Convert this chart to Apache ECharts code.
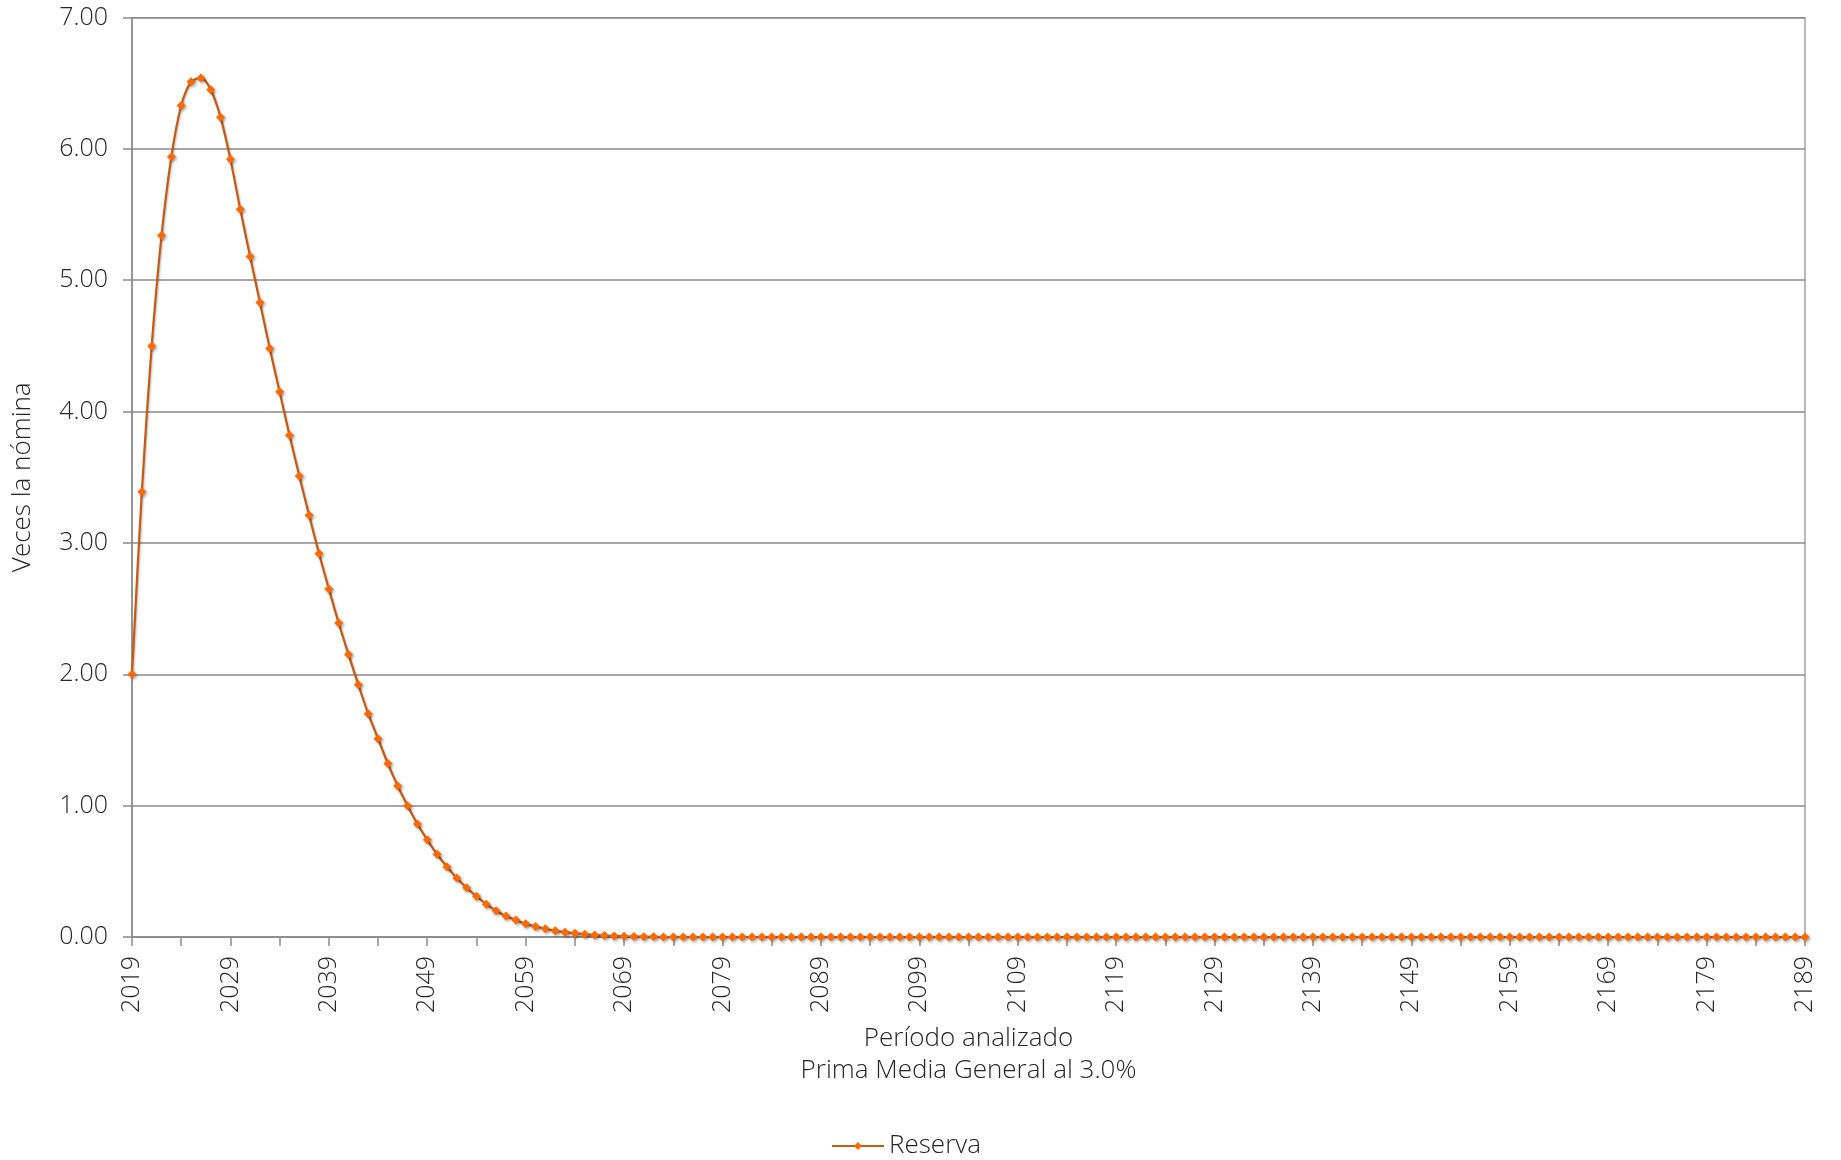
<!DOCTYPE html>
<html>
<head>
<meta charset="utf-8">
<script src="https://cdn.jsdelivr.net/npm/echarts@6/dist/echarts.min.js"></script>
<style>
html,body{margin:0;padding:0;background:#fff;}
#chart{width:1841px;height:1160px;}
</style>
</head>
<body>
<div id="chart"></div>
<script>
const firstYear = 2019;
const lastYear = 2189;
const years = [];
for (let y = firstYear; y <= lastYear; y++) years.push(String(y));

const reserva = [
  2.00, 3.39, 4.50, 5.34, 5.94, 6.33, 6.51, 6.54, 6.45, 6.24,
  5.92, 5.54, 5.18, 4.83, 4.48, 4.15, 3.82, 3.51, 3.21, 2.92,
  2.65, 2.39, 2.15, 1.92, 1.70, 1.51, 1.32, 1.15, 1.00, 0.86,
  0.74, 0.63, 0.535, 0.45, 0.375, 0.31, 0.25, 0.20, 0.16, 0.13,
  0.10, 0.08, 0.063, 0.048, 0.037, 0.028, 0.020, 0.015, 0.011, 0.008,
  0.005, 0.003, 0.002, 0.001, 0, 0, 0, 0, 0, 0,
  0, 0, 0, 0, 0, 0, 0, 0, 0, 0,
  0, 0, 0, 0, 0, 0, 0, 0, 0, 0,
  0, 0, 0, 0, 0, 0, 0, 0, 0, 0,
  0, 0, 0, 0, 0, 0, 0, 0, 0, 0,
  0, 0, 0, 0, 0, 0, 0, 0, 0, 0,
  0, 0, 0, 0, 0, 0, 0, 0, 0, 0,
  0, 0, 0, 0, 0, 0, 0, 0, 0, 0,
  0, 0, 0, 0, 0, 0, 0, 0, 0, 0,
  0, 0, 0, 0, 0, 0, 0, 0, 0, 0,
  0, 0, 0, 0, 0, 0, 0, 0, 0, 0,
  0, 0, 0, 0, 0, 0, 0, 0, 0, 0,
  0
];

const seriesName = 'Reserva';
const xAxisName = 'Período analizado\nPrima Media General al 3.0%';
const yAxisName = 'Veces la nómina';

const FONT = '"Open Sans", Lato, sans-serif';
const TXT = '#262626';

const chart = echarts.init(document.getElementById('chart'), null, {renderer: 'canvas'});
chart.setOption({
  animation: false,
  backgroundColor: '#ffffff',
  textStyle: {fontFamily: FONT},
  grid: {
    left: 132, right: 36, top: 17.5, bottom: 223,
    show: true, borderColor: '#8a8a8a', borderWidth: 1.2, containLabel: false
  },
  legend: {
    data: [seriesName],
    left: 826, top: 1128,
    itemWidth: 52, itemHeight: 10, itemGap: 6,
    textStyle: {fontFamily: FONT, fontSize: 26, color: TXT, fontWeight: 300}
  },
  xAxis: {
    type: 'category',
    data: years,
    boundaryGap: false,
    name: xAxisName,
    nameLocation: 'middle',
    nameGap: 86,
    nameTextStyle: {fontFamily: FONT, fontSize: 26, color: TXT, lineHeight: 32, fontWeight: 300},
    axisLine: {lineStyle: {color: '#8a8a8a', width: 1.5}},
    axisTick: {show: true, interval: 4, length: 9, alignWithLabel: true, lineStyle: {color: '#8a8a8a', width: 1.5}},
    axisLabel: {interval: 9, rotate: 90, margin: 19, fontFamily: FONT, fontSize: 25, color: TXT, fontWeight: 300},
    splitLine: {show: false}
  },
  yAxis: {
    type: 'value',
    min: 0, max: 7, interval: 1,
    name: yAxisName,
    nameLocation: 'middle',
    nameGap: 96,
    nameRotate: 90,
    nameTextStyle: {fontFamily: FONT, fontSize: 26, color: TXT, fontWeight: 300},
    axisLine: {show: true, lineStyle: {color: '#8a8a8a', width: 1.5}},
    axisTick: {show: true, length: 9, lineStyle: {color: '#8a8a8a', width: 1.5}},
    axisLabel: {margin: 24, fontFamily: FONT, fontSize: 25, color: TXT, fontWeight: 300,
      formatter: v => v.toFixed(2)},
    splitLine: {show: true, lineStyle: {color: '#8a8a8a', width: 1.5}}
  },
  series: [{
    name: seriesName,
    type: 'line',
    data: reserva,
    smooth: 0.3,
    symbol: 'diamond',
    symbolSize: 9,
    showAllSymbol: true,
    clip: false,
    lineStyle: {color: '#C55A11', width: 2.2, shadowColor: 'rgba(0,0,0,0.25)', shadowBlur: 2, shadowOffsetX: 1, shadowOffsetY: 1},
    itemStyle: {color: '#FF6A00', borderWidth: 0, shadowColor: 'rgba(0,0,0,0.35)', shadowBlur: 3, shadowOffsetX: 1.5, shadowOffsetY: 1.5}
  }]
});
</script>
</body>
</html>
